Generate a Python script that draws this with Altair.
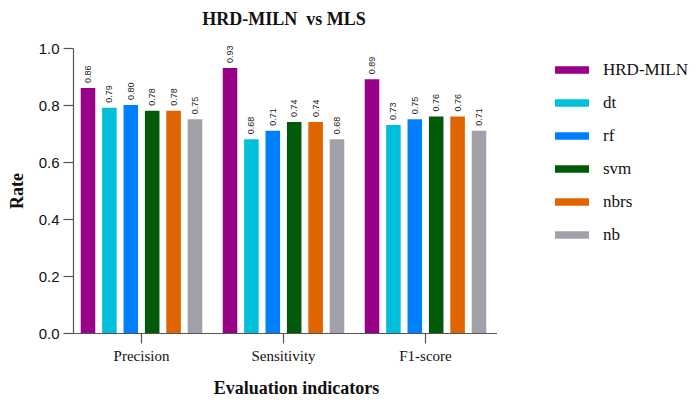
import altair as alt
import pandas as pd

indicators = ["Precision", "Sensitivity", "F1-score"]
models = ["HRD-MILN", "dt", "rf", "svm", "nbrs", "nb"]
colors = ["#990088", "#00BFDB", "#0080FF", "#005A0A", "#E06400", "#A0A0A8"]
precision = [0.86, 0.79, 0.80, 0.78, 0.78, 0.75]
sensitivity = [0.93, 0.68, 0.71, 0.74, 0.74, 0.68]
f1score = [0.89, 0.73, 0.75, 0.76, 0.76, 0.71]

rows = []
for ind, vals in zip(indicators, [precision, sensitivity, f1score]):
    for m, v in zip(models, vals):
        rows.append({"indicator": ind, "model": m, "rate": v})
df = pd.DataFrame(rows)

serif = "Liberation Serif"
sans = "Liberation Sans"

x = alt.X("indicator:N", sort=indicators,
          scale=alt.Scale(range=[7.5, 433.5], paddingInner=0, paddingOuter=0),
          axis=alt.Axis(title="Evaluation indicators", labelAngle=0,
                        labelFont=serif, labelFontSize=15, labelColor="#111",
                        titleFont=serif, titleFontSize=18, titleFontWeight="bold",
                        titleColor="#111", titlePadding=16, titleX=233,
                        domainColor="#555", tickColor="#555", tickSize=10,
                        labelPadding=5, domainWidth=1.2, tickWidth=1.2))
xo = alt.XOffset("model:N", sort=models,
                 scale=alt.Scale(paddingInner=0.32, paddingOuter=0.478))
y = alt.Y("rate:Q", scale=alt.Scale(domain=[0, 1]),
          axis=alt.Axis(title="Rate", values=[0, 0.2, 0.4, 0.6, 0.8, 1.0],
                        format=".1f", offset=-10, grid=False,
                        labelFont=sans, labelFontSize=15, labelColor="#111",
                        titleFont=serif, titleFontSize=18, titleFontWeight="bold",
                        titleColor="#111", titlePadding=12,
                        domainColor="#555", tickColor="#555", tickSize=10,
                        labelPadding=4, domainWidth=1.2, tickWidth=1.2))

bars = alt.Chart(df).mark_bar().encode(
    x=x, xOffset=xo, y=y,
    color=alt.Color("model:N", sort=models,
                    scale=alt.Scale(domain=models, range=colors),
                    legend=alt.Legend(title=None, orient="none", legendX=492, legendY=5,
                                      symbolType="M-1,-0.22H1V0.22H-1Z", symbolSize=1156,
                                      symbolStrokeWidth=0, labelFont=serif,
                                      labelFontSize=17, labelColor="#111",
                                      labelOffset=14, rowPadding=8)),
)

labels = alt.Chart(df).mark_text(angle=270, align="left", baseline="middle",
                                 dx=5, font=sans, fontSize=9, color="#222").encode(
    x=x, xOffset=xo, y=y,
    text=alt.Text("rate:Q", format=".2f"),
)

chart = alt.layer(bars, labels).properties(
    width=430, height=285,
    title=alt.TitleParams("HRD-MILN\u00a0 vs MLS", font=serif, fontSize=18,
                          fontWeight="bold", color="#111", anchor="middle",
                          dx=6, offset=12, frame="group"),
    autosize=alt.AutoSizeParams(type="none"),
    padding={"left": 55, "top": 40, "right": 197, "bottom": 66},
).configure_view(stroke=None)

chart.save("out.html", embed_options={"renderer": "svg", "actions": False})
